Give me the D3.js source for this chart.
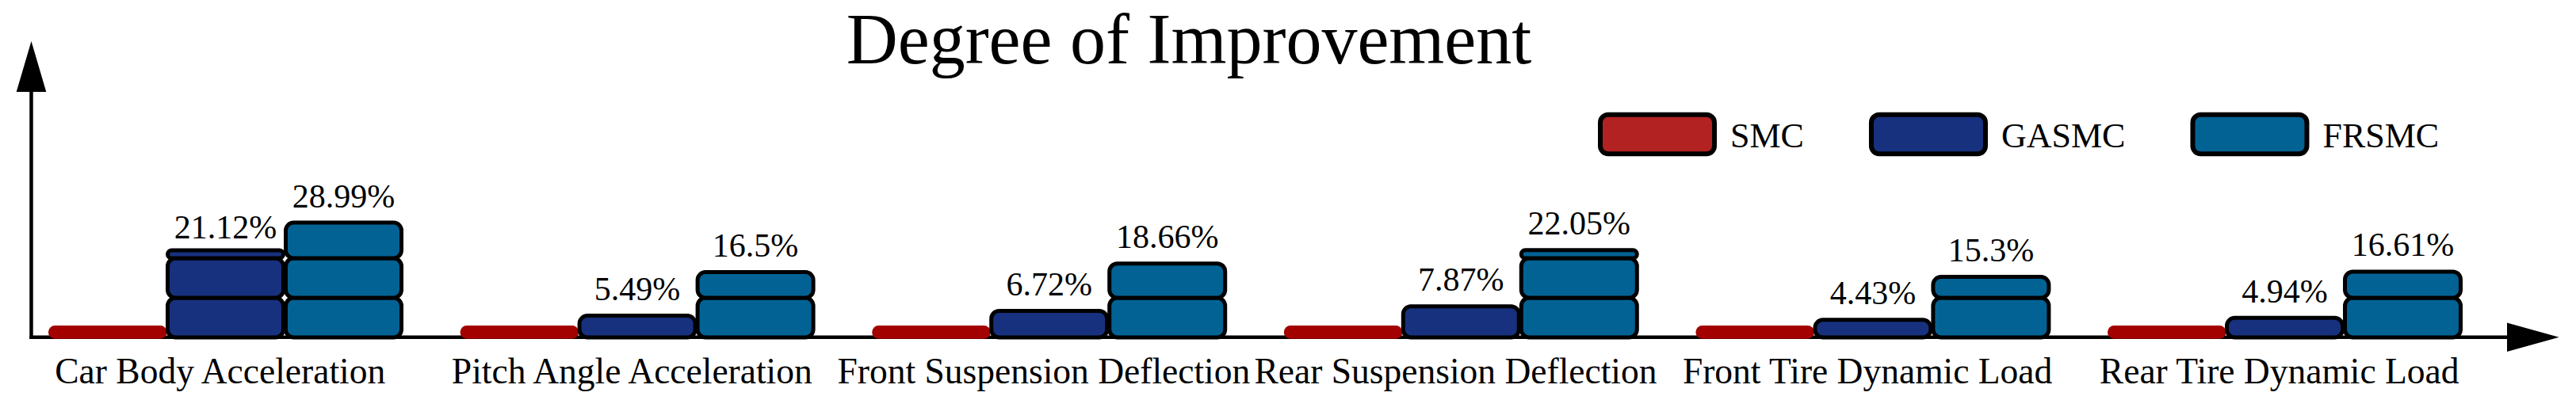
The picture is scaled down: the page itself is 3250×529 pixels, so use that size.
<!DOCTYPE html>
<html>
<head>
<meta charset="utf-8">
<script src="https://cdn.jsdelivr.net/npm/d3@7/dist/d3.min.js"></script>
<style>
  html, body { margin: 0; padding: 0; background: #ffffff; }
  svg { display: block; }
  text { font-family: "Liberation Serif", "DejaVu Serif", serif; fill: #000; }
</style>
</head>
<body>
<script>
// ---- data ----
const categories = [
  "Car Body Acceleration",
  "Pitch Angle Acceleration",
  "Front Suspension Deflection",
  "Rear Suspension Deflection",
  "Front Tire Dynamic Load",
  "Rear Tire Dynamic Load"
];
const seriesNames = ["SMC", "GASMC", "FRSMC"];
const smcValues   = [0, 0, 0, 0, 0, 0];
const gasmcValues = [21.12, 5.49, 6.72, 7.87, 4.43, 4.94];
const frsmcValues = [28.99, 16.5, 18.66, 22.05, 15.3, 16.61];
const blockUnit = 10;            // each stacked block represents 10 %
const titleText = "Degree of Improvement";

// ---- styles ----
const W = 3250, H = 529;
const legendColors = { SMC: "#B22222", GASMC: "#17317E", FRSMC: "#026294" };
const barColors    = { SMC: "#A30000", GASMC: "#17317E", FRSMC: "#026294" };
const minBlockPx = 10;

const svg = d3.select("body").append("svg").attr("width", W).attr("height", H);

// ---- scales ----
const x = d3.scaleBand().domain(categories).range([47, 3106.4]).paddingInner(0.112).paddingOuter(0);
const xs = d3.scaleBand().domain(seriesNames).range([14, 14 + 3 * 149]);
const y = d3.scaleLinear().domain([0, 30]).range([426, 276]);

const valuesBySeries = { SMC: smcValues, GASMC: gasmcValues, FRSMC: frsmcValues };

// ---- axes (arrows) ----
const axisY0 = y(0) - 0.2;
const gAxes = svg.append("g");
gAxes.append("line")
  .attr("x1", 39.5).attr("x2", 39.5).attr("y1", 110).attr("y2", axisY0 + 2.2)
  .attr("stroke", "#000").attr("stroke-width", 4.5);
gAxes.append("path")
  .attr("d", d3.line()([[39.5, 52], [20.7, 116], [58.3, 116]]) + "Z")
  .attr("fill", "#000");
gAxes.append("line")
  .attr("x1", 37.3).attr("x2", 3170).attr("y1", axisY0).attr("y2", axisY0)
  .attr("stroke", "#000").attr("stroke-width", 4.5);
gAxes.append("path")
  .attr("d", d3.line()([[3228.6, axisY0], [3163, axisY0 - 18.3], [3163, axisY0 + 18.3]]) + "Z")
  .attr("fill", "#000");

// ---- bars ----
const gBars = svg.append("g");
categories.forEach((cat, i) => {
  // SMC: zero improvement, drawn as a flat pill on the baseline
  const sx = x(cat) + xs("SMC");
  gBars.append("rect")
    .attr("x", sx).attr("width", xs.bandwidth() + 0.5)
    .attr("y", y(smcValues[i]) - 15).attr("height", 16.7)
    .attr("rx", 8.3).attr("ry", 8.3)
    .attr("fill", barColors.SMC);

  ["GASMC", "FRSMC"].forEach(s => {
    const v = valuesBySeries[s][i];
    const bx = x(cat) + xs(s) + 1.5;
    const bw = xs.bandwidth() - 3;
    const n = Math.ceil(v / blockUnit);
    const blocks = d3.range(n).map(k => [k * blockUnit, Math.min(v, (k + 1) * blockUnit)]);
    blocks.forEach(([lo, hi]) => {
      const h = Math.max(minBlockPx, y(lo) - y(hi));
      const r = Math.min(10, h / 2);
      gBars.append("rect")
        .attr("x", bx).attr("width", bw)
        .attr("y", y(lo) - h).attr("height", h)
        .attr("rx", r).attr("ry", r)
        .attr("fill", barColors[s])
        .attr("stroke", "#000").attr("stroke-width", 5);
    });
    gBars.append("text")
      .attr("x", bx + bw / 2).attr("y", y(v) - 19.5)
      .attr("text-anchor", "middle").attr("font-size", 42)
      .text(v + "%");
  });
});

// ---- category labels ----
svg.append("g").selectAll("text").data(categories).join("text")
  .attr("x", d => x(d) + x.bandwidth() / 2)
  .attr("y", 484)
  .attr("text-anchor", "middle").attr("font-size", 45.5)
  .text(d => d);

// ---- title ----
svg.append("text")
  .attr("x", 1500).attr("y", 80)
  .attr("text-anchor", "middle").attr("font-size", 90)
  .text(titleText);

// ---- legend ----
const gLeg = svg.append("g");
let lx = 2019;
seriesNames.forEach(s => {
  gLeg.append("rect")
    .attr("x", lx).attr("y", 144.7).attr("width", 144).attr("height", 49.6)
    .attr("rx", 10).attr("ry", 10)
    .attr("fill", legendColors[s]).attr("stroke", "#000").attr("stroke-width", 6);
  const t = gLeg.append("text")
    .attr("x", lx + 164).attr("y", 186).attr("font-size", 44).text(s);
  const tw = t.node().getComputedTextLength();
  lx = lx + 164 + tw + 85;
});
</script>
</body>
</html>
